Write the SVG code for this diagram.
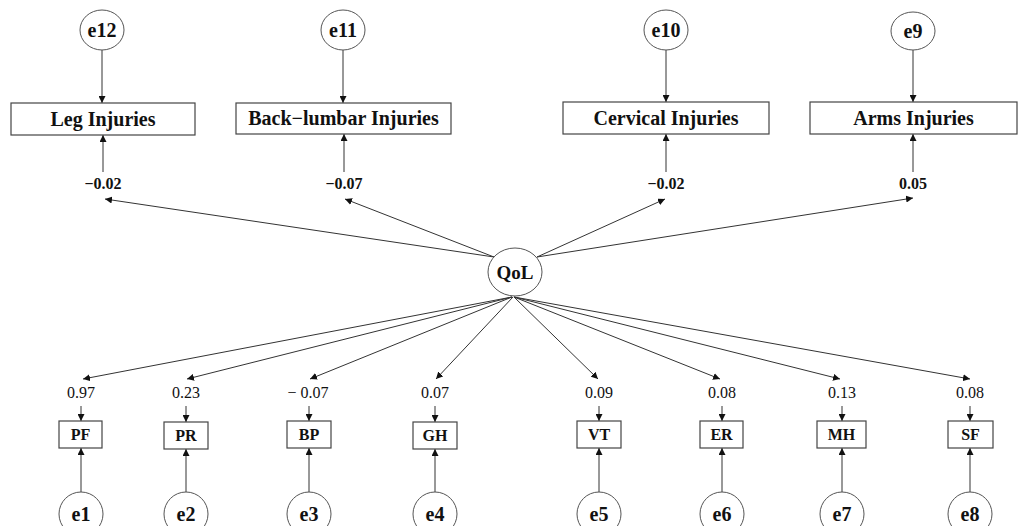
<svg xmlns="http://www.w3.org/2000/svg" width="1022" height="526" viewBox="0 0 1022 526">
<style>
.bg{fill:#fff}
.ell{fill:#fff;stroke:#555;stroke-width:1}
.box{fill:#fff;stroke:#444;stroke-width:1.2}
.ln{stroke:#333;stroke-width:1;fill:none}
.t{font-family:"Liberation Serif",serif;font-weight:bold;fill:#111;text-anchor:middle}
.big{font-size:20px}
.e{font-size:20px}
.sm{font-size:16px}
.val{font-family:"Liberation Serif",serif;font-size:16px;fill:#111;text-anchor:middle}
.valb{font-family:"Liberation Serif",serif;font-weight:bold;font-size:16px;fill:#111;text-anchor:middle}
</style>
<defs>
<marker id="ah" viewBox="0 0 10 10" refX="10" refY="5" markerWidth="7" markerHeight="7" markerUnits="userSpaceOnUse" orient="auto">
<path d="M0,0 L10,5 L0,10 z" fill="#111"/>
</marker>
</defs>
<rect class="bg" x="0" y="0" width="1022" height="526"/>
<g id="connectors">
<line class="ln" x1="102" y1="50" x2="102" y2="103" marker-end="url(#ah)"/>
<line class="ln" x1="343" y1="50" x2="343" y2="103" marker-end="url(#ah)"/>
<line class="ln" x1="666" y1="50" x2="666" y2="102" marker-end="url(#ah)"/>
<line class="ln" x1="913" y1="50" x2="913" y2="102" marker-end="url(#ah)"/>
<line class="ln" x1="103" y1="172" x2="103" y2="135" marker-end="url(#ah)"/>
<line class="ln" x1="344" y1="172" x2="344" y2="134" marker-end="url(#ah)"/>
<line class="ln" x1="666" y1="172" x2="666" y2="134" marker-end="url(#ah)"/>
<line class="ln" x1="913" y1="172" x2="913" y2="134" marker-end="url(#ah)"/>
<line class="ln" x1="494" y1="257" x2="105" y2="199" marker-end="url(#ah)"/>
<line class="ln" x1="494" y1="257" x2="345" y2="199" marker-end="url(#ah)"/>
<line class="ln" x1="537" y1="257" x2="665" y2="199" marker-end="url(#ah)"/>
<line class="ln" x1="537" y1="257" x2="913" y2="198" marker-end="url(#ah)"/>
<line class="ln" x1="512" y1="297" x2="83" y2="379" marker-end="url(#ah)"/>
<line class="ln" x1="512" y1="297" x2="187" y2="379" marker-end="url(#ah)"/>
<line class="ln" x1="512" y1="297" x2="310" y2="379" marker-end="url(#ah)"/>
<line class="ln" x1="513" y1="297" x2="436" y2="379" marker-end="url(#ah)"/>
<line class="ln" x1="514" y1="297" x2="598" y2="379" marker-end="url(#ah)"/>
<line class="ln" x1="514" y1="297" x2="720" y2="379" marker-end="url(#ah)"/>
<line class="ln" x1="514" y1="297" x2="840" y2="379" marker-end="url(#ah)"/>
<line class="ln" x1="514" y1="297" x2="970" y2="379" marker-end="url(#ah)"/>
<line class="ln" x1="81" y1="406" x2="81" y2="421" marker-end="url(#ah)"/>
<line class="ln" x1="186" y1="406" x2="186" y2="422" marker-end="url(#ah)"/>
<line class="ln" x1="309" y1="406" x2="309" y2="421" marker-end="url(#ah)"/>
<line class="ln" x1="435" y1="406" x2="435" y2="422" marker-end="url(#ah)"/>
<line class="ln" x1="599" y1="406" x2="599" y2="421" marker-end="url(#ah)"/>
<line class="ln" x1="722" y1="406" x2="722" y2="421" marker-end="url(#ah)"/>
<line class="ln" x1="842" y1="406" x2="842" y2="421" marker-end="url(#ah)"/>
<line class="ln" x1="970" y1="406" x2="970" y2="421" marker-end="url(#ah)"/>
<line class="ln" x1="81" y1="492" x2="81" y2="448" marker-end="url(#ah)"/>
<line class="ln" x1="186" y1="492" x2="186" y2="449" marker-end="url(#ah)"/>
<line class="ln" x1="309" y1="492" x2="309" y2="448" marker-end="url(#ah)"/>
<line class="ln" x1="435" y1="492" x2="435" y2="449" marker-end="url(#ah)"/>
<line class="ln" x1="599" y1="492" x2="599" y2="448" marker-end="url(#ah)"/>
<line class="ln" x1="722" y1="492" x2="722" y2="448" marker-end="url(#ah)"/>
<line class="ln" x1="842" y1="492" x2="842" y2="448" marker-end="url(#ah)"/>
<line class="ln" x1="970" y1="492" x2="970" y2="448" marker-end="url(#ah)"/>
</g>
<g id="labels">
<text class="valb" x="103" y="189">−0.02</text>
<text class="valb" x="344" y="189">−0.07</text>
<text class="valb" x="666" y="189">−0.02</text>
<text class="valb" x="913" y="189">0.05</text>
<text class="val" x="81" y="398">0.97</text>
<text class="val" x="186" y="398">0.23</text>
<text class="val" x="308" y="398">− 0.07</text>
<text class="val" x="435" y="398">0.07</text>
<text class="val" x="599" y="398">0.09</text>
<text class="val" x="722" y="398">0.08</text>
<text class="val" x="842" y="398">0.13</text>
<text class="val" x="970" y="398">0.08</text>
</g>
<g id="e12"><ellipse class="ell" cx="102" cy="30" rx="22" ry="20"/><text class="t e" x="102" y="37">e12</text></g>
<g id="e11"><ellipse class="ell" cx="343" cy="30" rx="22" ry="20"/><text class="t e" x="343" y="37">e11</text></g>
<g id="e10"><ellipse class="ell" cx="666" cy="30" rx="22" ry="20"/><text class="t e" x="666" y="37">e10</text></g>
<g id="e9"><ellipse class="ell" cx="913" cy="31" rx="22" ry="19"/><text class="t e" x="913" y="38">e9</text></g>
<g id="leg"><rect class="box" x="11" y="103" width="184" height="32"/><text class="t big" x="103" y="126">Leg Injuries</text></g>
<g id="back"><rect class="box" x="236" y="103" width="215" height="31"/><text class="t big" x="343.5" y="125">Back−lumbar Injuries</text></g>
<g id="cervical"><rect class="box" x="563" y="102" width="206" height="32"/><text class="t big" x="666" y="125">Cervical Injuries</text></g>
<g id="arms"><rect class="box" x="810" y="102" width="207" height="32"/><text class="t big" x="913.5" y="125">Arms Injuries</text></g>
<g id="qol"><ellipse class="ell" cx="515" cy="272" rx="27" ry="24"/><text class="t" style="font-size:19px" x="515" y="279">QoL</text></g>
<g id="pf"><rect class="box" x="59" y="421" width="43" height="27"/><text class="t sm" x="80.5" y="440">PF</text></g>
<g id="pr"><rect class="box" x="164" y="422" width="44" height="27"/><text class="t sm" x="186" y="441">PR</text></g>
<g id="bp"><rect class="box" x="287" y="421" width="44" height="27"/><text class="t sm" x="309" y="440">BP</text></g>
<g id="gh"><rect class="box" x="413" y="422" width="44" height="27"/><text class="t sm" x="435" y="441">GH</text></g>
<g id="vt"><rect class="box" x="577" y="421" width="44" height="27"/><text class="t sm" x="599" y="440">VT</text></g>
<g id="er"><rect class="box" x="700" y="421" width="43" height="27"/><text class="t sm" x="721.5" y="440">ER</text></g>
<g id="mh"><rect class="box" x="817" y="421" width="49" height="27"/><text class="t sm" x="841.5" y="440">MH</text></g>
<g id="sf"><rect class="box" x="948" y="421" width="45" height="27"/><text class="t sm" x="970.5" y="440">SF</text></g>
<g id="e1"><ellipse class="ell" cx="81" cy="514" rx="22" ry="22"/><text class="t e" x="81" y="521">e1</text></g>
<g id="e2"><ellipse class="ell" cx="186" cy="514" rx="22" ry="22"/><text class="t e" x="186" y="521">e2</text></g>
<g id="e3"><ellipse class="ell" cx="309" cy="514" rx="22" ry="22"/><text class="t e" x="309" y="521">e3</text></g>
<g id="e4"><ellipse class="ell" cx="435" cy="514" rx="22" ry="22"/><text class="t e" x="435" y="521">e4</text></g>
<g id="e5"><ellipse class="ell" cx="599" cy="514" rx="22" ry="22"/><text class="t e" x="599" y="521">e5</text></g>
<g id="e6"><ellipse class="ell" cx="722" cy="514" rx="22" ry="22"/><text class="t e" x="722" y="521">e6</text></g>
<g id="e7"><ellipse class="ell" cx="842" cy="514" rx="22" ry="22"/><text class="t e" x="842" y="521">e7</text></g>
<g id="e8"><ellipse class="ell" cx="970" cy="514" rx="22" ry="22"/><text class="t e" x="970" y="521">e8</text></g>
</svg>
